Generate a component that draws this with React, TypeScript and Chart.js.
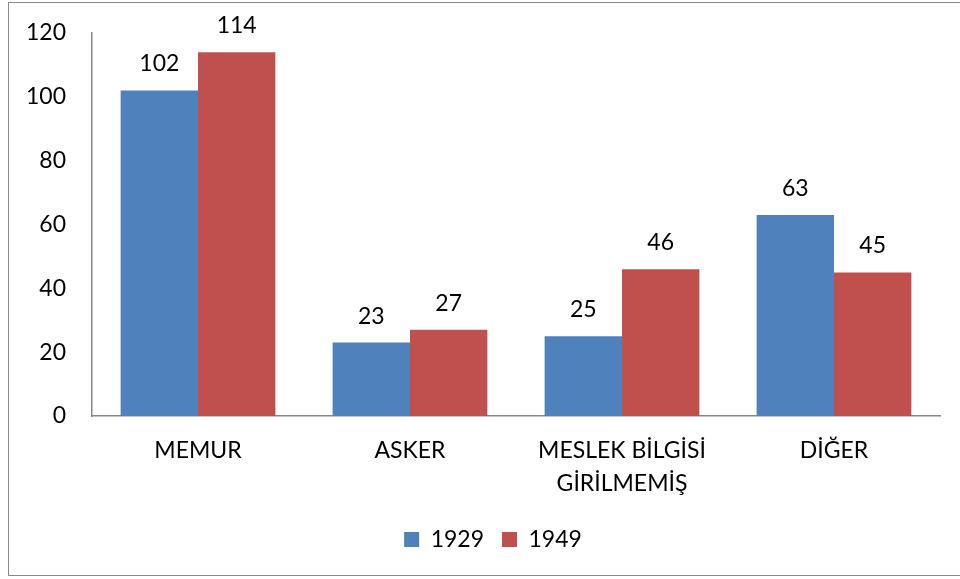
import React, { useEffect, useRef } from "react";
import { Chart, registerables } from "chart.js";

Chart.register(...registerables);

const categories: (string | string[])[] = ["MEMUR", "ASKER", ["MESLEK BİLGİSİ", "GİRİLMEMİŞ"], "DİĞER"];
const series1929: number[] = [102, 23, 25, 63];
const series1949: number[] = [114, 27, 46, 45];
const seriesNames: string[] = ["1929", "1949"];
const yTicks: number[] = [0, 20, 40, 60, 80, 100, 120];

const FONT = "Lato, 'Open Sans', sans-serif";

const valueLabels = {
  id: "valueLabels",
  afterLayout(chart: any) {
    if (chart.legend) {
      chart.legend.left += 23;
      chart.legend.right += 23;
    }
  },
  afterDatasetsDraw(chart: any) {
    const ctx = chart.ctx;
    ctx.save();
    ctx.font = `23px ${FONT}`;
    ctx.fillStyle = "#000";
    ctx.textAlign = "center";
    ctx.textBaseline = "alphabetic";
    chart.data.datasets.forEach((ds: any, i: number) => {
      const meta = chart.getDatasetMeta(i);
      meta.data.forEach((bar: any, j: number) => {
        ctx.fillText(String(ds.data[j]), bar.x, bar.y - 19);
      });
    });
    ctx.restore();
  },
};

export default function App() {
  const ref = useRef<HTMLCanvasElement>(null);
  useEffect(() => {
    if (!ref.current) return;
    const chart = new Chart(ref.current, {
      type: "bar",
      data: {
        labels: categories as any,
        datasets: [
          { label: seriesNames[0], data: series1929, backgroundColor: "#4F81BD", categoryPercentage: 0.73, barPercentage: 1 },
          { label: seriesNames[1], data: series1949, backgroundColor: "#C0504D", categoryPercentage: 0.73, barPercentage: 1 },
        ],
      },
      options: {
        animation: false,
        responsive: false,
        layout: { padding: { left: 0, top: 33, right: 20, bottom: 18 } },
        plugins: {
          legend: {
            position: "bottom",
            labels: {
              boxWidth: 15,
              boxHeight: 15,
              padding: 18,
              color: "#000",
              font: { family: FONT, size: 23 },
            },
          },
          tooltip: { enabled: false },
        },
        scales: {
          x: {
            grid: { display: false },
            border: { display: true, color: "#888", width: 1.5 },
            ticks: {
              color: "#000",
              padding: 10,
              maxRotation: 0,
              autoSkip: false,
              font: { family: FONT, size: 23, lineHeight: 1.43 },
            },
            afterFit: (s: any) => {
              s.height = 94;
            },
          },
          y: {
            min: 0,
            max: 120,
            grid: { display: false },
            border: { display: true, color: "#888", width: 1.5 },
            afterBuildTicks: (s: any) => {
              s.ticks = yTicks.map((v) => ({ value: v }));
            },
            ticks: {
              color: "#000",
              padding: 18,
              font: { family: FONT, size: 23 },
            },
            afterFit: (s: any) => {
              s.width = 92;
              s.paddingTop = 0;
              s.paddingBottom = 0;
            },
          },
        },
      },
      plugins: [valueLabels],
    });
    return () => chart.destroy();
  }, []);
  return (
    <div style={{ position: "fixed", left: 0, top: 0, width: 960, height: 579, background: "#fff", overflow: "hidden" }}>
      <div
        style={{
          position: "absolute",
          left: 8,
          top: 2,
          width: 1000,
          height: 574,
          border: "1.5px solid #8a8a8a",
          boxSizing: "border-box",
        }}
      />
      <canvas ref={ref} width={960} height={579} style={{ position: "absolute", left: 0, top: 0 }} />
    </div>
  );
}
